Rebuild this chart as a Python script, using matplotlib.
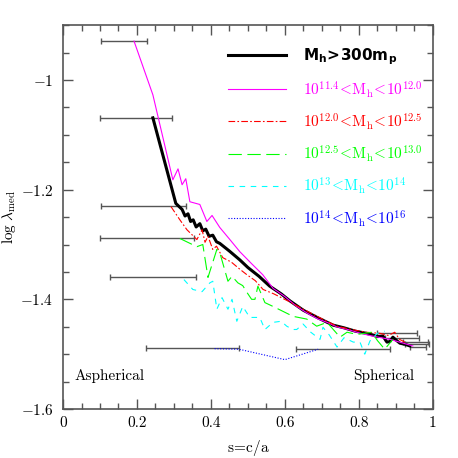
import matplotlib
matplotlib.use('Agg')
import matplotlib.pyplot as plt
import numpy as np

plt.rcParams['font.family'] = 'serif'
plt.rcParams['font.serif'] = ['cmr10', 'DejaVu Serif']
plt.rcParams['mathtext.fontset'] = 'cm'
plt.rcParams['axes.formatter.use_mathtext'] = True

# median spin parameter vs shape, per mass bin
s_all = [0.243, 0.305, 0.322, 0.33, 0.338, 0.345, 0.352, 0.36, 0.37, 0.378, 0.386, 0.395,
         0.405, 0.415, 0.424, 0.45, 0.478, 0.5, 0.53, 0.559, 0.59, 0.614, 0.65, 0.69, 0.73,
         0.76, 0.79, 0.82, 0.838, 0.85, 0.865, 0.876, 0.884, 0.892, 0.9, 0.911, 0.925, 0.938]
l_all = [-1.069, -1.225, -1.236, -1.248, -1.244, -1.258, -1.255, -1.268, -1.262, -1.275,
         -1.272, -1.285, -1.283, -1.295, -1.298, -1.312, -1.328, -1.342, -1.358, -1.376,
         -1.39, -1.403, -1.42, -1.434, -1.447, -1.452, -1.458, -1.462, -1.465, -1.468,
         -1.467, -1.478, -1.477, -1.469, -1.474, -1.48, -1.482, -1.485]

s_m1 = [0.192, 0.243, 0.297, 0.311, 0.322, 0.332, 0.343, 0.37, 0.389, 0.403, 0.424, 0.45,
        0.478, 0.51, 0.54, 0.568, 0.6, 0.63, 0.66, 0.69, 0.714, 0.74, 0.77, 0.8, 0.83, 0.86,
        0.884, 0.91, 0.946]
l_m1 = [-0.929, -1.027, -1.182, -1.162, -1.191, -1.18, -1.222, -1.227, -1.258, -1.247,
        -1.269, -1.29, -1.313, -1.335, -1.355, -1.38, -1.395, -1.412, -1.425, -1.436, -1.442,
        -1.45, -1.455, -1.461, -1.466, -1.47, -1.473, -1.478, -1.485]

s_m2 = [0.292, 0.316, 0.335, 0.362, 0.376, 0.384, 0.392, 0.405, 0.415, 0.432, 0.455, 0.478,
        0.497, 0.52, 0.541, 0.57, 0.614, 0.65, 0.69, 0.741, 0.78, 0.82, 0.857, 0.88, 0.897,
        0.91, 0.93]
l_m2 = [-1.231, -1.255, -1.273, -1.291, -1.273, -1.296, -1.285, -1.309, -1.303, -1.324,
        -1.332, -1.345, -1.355, -1.366, -1.382, -1.39, -1.405, -1.418, -1.432, -1.449, -1.455,
        -1.46, -1.462, -1.466, -1.46, -1.473, -1.48]

s_m3 = [0.316, 0.362, 0.378, 0.392, 0.416, 0.424, 0.446, 0.457, 0.473, 0.486, 0.497, 0.51,
        0.519, 0.527, 0.546, 0.568, 0.595, 0.622, 0.659, 0.686, 0.714, 0.749, 0.768, 0.795,
        0.815, 0.835, 0.85, 0.87, 0.892]
l_m3 = [-1.289, -1.304, -1.3, -1.36, -1.309, -1.315, -1.367, -1.358, -1.37, -1.375, -1.387,
        -1.4, -1.4, -1.376, -1.406, -1.413, -1.422, -1.431, -1.436, -1.449, -1.442, -1.469,
        -1.46, -1.464, -1.462, -1.46, -1.475, -1.491, -1.473]

s_m4 = [0.327, 0.351, 0.376, 0.397, 0.405, 0.416, 0.43, 0.446, 0.457, 0.47, 0.486, 0.505,
        0.532, 0.546, 0.568, 0.59, 0.605, 0.622, 0.632, 0.649, 0.67, 0.695, 0.703, 0.72,
        0.741, 0.76, 0.785, 0.803, 0.816, 0.83, 0.85, 0.87]
l_m4 = [-1.364, -1.382, -1.386, -1.37, -1.367, -1.418, -1.397, -1.418, -1.4, -1.44, -1.413,
        -1.433, -1.433, -1.455, -1.442, -1.44, -1.449, -1.455, -1.455, -1.445, -1.46, -1.473,
        -1.451, -1.465, -1.487, -1.47, -1.478, -1.478, -1.5, -1.476, -1.462, -1.458]

s_m5 = [0.41, 0.476, 0.6, 0.69]
l_m5 = [-1.49, -1.491, -1.51, -1.491]

# horizontal spread bars
bar_lo = [0.103, 0.100, 0.103, 0.099, 0.127, 0.224, 0.630, 0.849, 0.87, 0.919, 0.925, 0.938]
bar_hi = [0.227, 0.295, 0.332, 0.354, 0.359, 0.476, 0.884, 0.957, 0.962, 0.986, 0.989, 0.981]
bar_y = [-0.929, -1.069, -1.229, -1.289, -1.36, -1.489, -1.491, -1.461, -1.471, -1.478,
         -1.482, -1.487]

labels = [r'$\mathbf{M_h\!>\!300m_p}$',
          r'$10^{11.4}\!<\!{\rm M_h}\!<\!10^{12.0}$',
          r'$10^{12.0}\!<\!{\rm M_h}\!<\!10^{12.5}$',
          r'$10^{12.5}\!<\!{\rm M_h}\!<\!10^{13.0}$',
          r'$10^{13}\!<\!{\rm M_h}\!<\!10^{14}$',
          r'$10^{14}\!<\!{\rm M_h}\!<\!10^{16}$']

fig = plt.figure(figsize=(4.58, 4.58), dpi=100)
ax = fig.add_axes([0.1376, 0.107, 0.8074, 0.838])

gray = '#555555'
lo = np.array(bar_lo)
hi = np.array(bar_hi)
ax.errorbar((lo + hi) / 2, bar_y, xerr=(hi - lo) / 2, fmt='none', ecolor=gray,
            elinewidth=1.0, capsize=2.3, capthick=1.0)

ax.plot(s_all, l_all, color='black', lw=2.2, label=labels[0])
ax.plot(s_m1, l_m1, color='#ff00ff', lw=0.8, label=labels[1])
ax.plot(s_m2, l_m2, color='#ff0000', lw=0.8, dashes=(6, 2, 1.5, 2), label=labels[2])
ax.plot(s_m3, l_m3, color='#00ff00', lw=0.8, dashes=(12, 5), label=labels[3])
ax.plot(s_m4, l_m4, color='#00ffff', lw=0.8, dashes=(5, 5), label=labels[4])
ax.plot(s_m5, l_m5, color='#0000ff', lw=0.8, dashes=(1, 1.5), label=labels[5])

ax.set_xlim(0, 1)
ax.set_ylim(-1.6, -0.9)
ax.set_xticks(np.arange(0, 1.01, 0.2))
ax.set_xticks(np.arange(0, 1.01, 0.05), minor=True)
ax.set_yticks([-1.6, -1.4, -1.2, -1.0])
ax.set_yticks(np.arange(-1.6, -0.89, 0.05), minor=True)
ax.set_xticklabels(['0', '0.2', '0.4', '0.6', '0.8', '1'])
ax.set_yticklabels([r'$-1.6$', r'$-1.4$', r'$-1.2$', r'$-1$'])
ax.tick_params(which='both', direction='in', top=True, right=True, color=gray,
               labelsize=11)
ax.tick_params(which='major', length=7, width=1.0)
ax.tick_params(which='minor', length=4, width=1.0)
ax.tick_params(axis='x', pad=5)
ax.tick_params(axis='y', pad=7)
for sp in ax.spines.values():
    sp.set_color(gray)
    sp.set_linewidth(1.2)

ax.set_xlabel(r'$\rm s\!=\!c/a$', fontsize=11, labelpad=6)
ax.set_ylabel(r'$\rm log\ \lambda_{med}$', fontsize=11, labelpad=2)

ax.text(0.032, -1.54, 'Aspherical', fontsize=11, va='center', ha='left')
ax.text(0.949, -1.54, 'Spherical', fontsize=11, va='center', ha='right')

leg = ax.legend(loc='upper left', bbox_to_anchor=(0.43, 0.96), frameon=False,
                handlelength=3.8, handletextpad=1.1, labelspacing=0.75, fontsize=11,
                borderaxespad=0)
colors = ['black', '#ff00ff', '#ff0000', '#00ff00', '#00ffff', '#0000ff']
for t, c in zip(leg.get_texts(), colors):
    t.set_color(c)
leg.get_texts()[0].set_math_fontfamily('dejavusans')

fig.savefig('out.png', dpi=100)
